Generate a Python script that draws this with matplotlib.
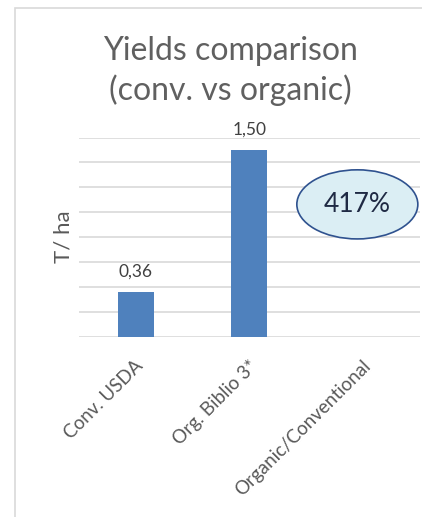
import numpy as np
import matplotlib
matplotlib.use("Agg")
import matplotlib.pyplot as plt
import matplotlib.transforms as mtransforms
from matplotlib.patches import Ellipse, Rectangle

plt.rcParams["font.family"] = ["Lato", "DejaVu Sans"]

categories = ["Conv. USDA", "Org. Biblio 3*", "Organic/Conventional"]
yields = [0.36, 1.50, np.nan]
ratio_label = "417%"

fig = plt.figure(figsize=(4.22, 5.17), dpi=100)

# chart frame (cut off at right and bottom like the screenshot)
fig.patches.append(Rectangle((15 / 422, -0.1), 1.2, (517 - 8) / 517 + 0.1,
                             transform=fig.transFigure, fill=False,
                             edgecolor="#d9d9d9", linewidth=1.2))

ax = fig.add_axes([0.1865, 0.3487, 0.8085, 0.3853])
x = np.arange(len(categories))
vals = np.array(yields, dtype=float)
ax.bar(x, np.nan_to_num(vals), width=0.317, color="#4f81bd", zorder=3)
for xi, v in zip(x, vals):
    if not np.isnan(v):
        ax.text(xi, v + 0.1, f"{v:.2f}".replace(".", ","), ha="center",
                va="bottom", fontsize=12.5, color="#404040")

ax.set_xlim(-0.5, len(categories) - 0.5)
ax.set_ylim(0, 1.6)
ax.set_yticks(np.arange(0, 1.61, 0.2))
ax.yaxis.grid(True, color="#d9d9d9", linewidth=1.2, zorder=0)
ax.tick_params(axis="y", length=0, labelleft=False)
ax.tick_params(axis="x", length=0, pad=19)
for s in ax.spines.values():
    s.set_visible(False)
ax.set_xticks(x)
ax.set_xticklabels(categories, rotation=45, ha="right", va="center",
                   rotation_mode="anchor", fontsize=13.5, color="#595959")
shift = mtransforms.ScaledTranslation(5 / 100, 0, fig.dpi_scale_trans)
for lbl in ax.get_xticklabels():
    lbl.set_transform(lbl.get_transform() + shift)
ax.set_ylabel("T/ ha", fontsize=16, color="#595959", labelpad=4)

ell = Ellipse((1.95, 1.063), 1.064, 0.555, facecolor="#dbeef4",
              edgecolor="#2f528f", linewidth=1.2, clip_on=False, zorder=4)
ax.add_patch(ell)
ax.text(1.95, 1.063, ratio_label, ha="center", va="center", fontsize=19,
        color="#1f2a44", zorder=5)

fig.text(0.545, 0.862, "Yields comparison\n(conv. vs organic)", ha="center",
         va="center", fontsize=23, color="#606060", linespacing=1.32)

fig.savefig("out.png", dpi=100)
